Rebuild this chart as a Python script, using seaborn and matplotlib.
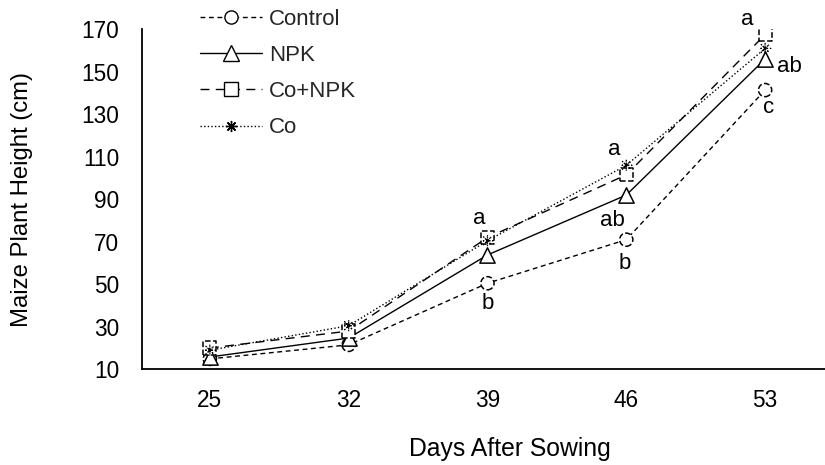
import matplotlib
matplotlib.use("Agg")
import matplotlib.pyplot as plt
import seaborn as sns
import pandas as pd
from matplotlib.lines import Line2D

days = [25, 32, 39, 46, 53]
control = [14.9, 21.5, 50.5, 71.0, 141.4]
npk = [15.8, 24.7, 63.8, 92.0, 156.0]
co_npk = [20.0, 28.0, 72.0, 101.5, 167.5]
co = [19.0, 30.5, 70.5, 106.0, 161.0]
series_names = ["Control", "NPK", "Co+NPK", "Co"]
yticks = [10, 30, 50, 70, 90, 110, 130, 150, 170]

# letters: (series, day index, text, offset pixels)
letters = [
    ("Co+NPK", 2, "a", (-8, 19)),
    ("Control", 2, "b", (0, -20)),
    ("Co", 3, "a", (-12, 16)),
    ("NPK", 3, "ab", (-14, -25)),
    ("Control", 3, "b", (-2, -24)),
    ("Co+NPK", 4, "a", (-18, 15)),
    ("NPK", 4, "ab", (24, -7)),
    ("Control", 4, "c", (4, -17)),
]

values = {"Control": control, "NPK": npk, "Co+NPK": co_npk, "Co": co}
df = pd.concat([pd.DataFrame({"day": days, "height": values[n], "treat": n}) for n in series_names])

sns.set_theme(style="white")
plt.rcParams["font.family"] = ["Liberation Sans", "DejaVu Sans"]

W, H = 825, 465
fig = plt.figure(figsize=(W / 100, H / 100), dpi=100)
ax = fig.add_axes([142 / W, (H - 369.3) / H, (825 - 142) / W, (369.3 - 29.3) / H])

styles = {
    "Control": dict(ls=(0, (3.5, 2.6)), marker="o", ms=9.5, mls="--"),
    "NPK": dict(ls="-", marker="^", ms=11, mls="-"),
    "Co+NPK": dict(ls=(0, (6.5, 4.5)), marker="s", ms=9.5, mls="--"),
    "Co": dict(ls=(0, (1, 1.6)), marker=(8, 2, 0), ms=8, mls=":"),
}

for n in series_names:
    st = styles[n]
    sub = df[df.treat == n]
    sns.lineplot(data=sub, x="day", y="height", ax=ax, color="black", lw=1.0,
                 linestyle=st["ls"], legend=False, zorder=2)
    ax.scatter(sub["day"], sub["height"], marker=st["marker"], s=st["ms"] ** 2,
               facecolors="white" if n != "Co" else "black", edgecolors="black",
               linewidths=1.1 if n != "Co" else 0.9, linestyle=st["mls"], zorder=3)

for n, i, txt, off in letters:
    ax.annotate(txt, (days[i], values[n][i]), xytext=off, textcoords="offset pixels",
                ha="center", va="center", fontsize=16, color="black", zorder=4,
                annotation_clip=False)

ax.set_xlim(21.58, 56.02)
ax.set_ylim(10, 170)
ax.set_xticks(days)
ax.set_xticklabels([str(d) for d in days])
ax.set_yticks(yticks)
ax.set_yticklabels([str(v) for v in yticks])
ax.tick_params(axis="both", labelsize=16.3, colors="black", direction="out", width=1.2)
ax.tick_params(axis="y", length=6.5, pad=10)
ax.tick_params(axis="x", length=4.5, pad=10)
for s in ["top", "right"]:
    ax.spines[s].set_visible(False)
for s in ["left", "bottom"]:
    ax.spines[s].set_color("black")
    ax.spines[s].set_linewidth(1.3)

ax.set_xlabel("Days After Sowing", fontsize=17.8, color="black")
ax.set_ylabel("Maize Plant Height (cm)", fontsize=17.2, color="black")
ax.xaxis.set_label_coords((510 - 142) / (825 - 142), -(437 - 369.3) / (369.3 - 29.3))
ax.yaxis.set_label_coords(-(142 - 33) / (825 - 142), 0.5)

handles = []
for n in series_names:
    st = styles[n]
    handles.append(Line2D([0], [0], color="black", lw=1.0, linestyle=st["ls"],
                          marker=st["marker"], ms=st["ms"],
                          mfc="white" if n != "Co" else "black", mec="black", mew=1.0))
fig.legend(handles, series_names, loc="upper left", bbox_to_anchor=(200 / W, 1 - 9 / H),
           frameon=False, fontsize=16, handlelength=2.8, handletextpad=0.3,
           labelspacing=0.68, borderpad=0, borderaxespad=0)

fig.savefig("out.png", dpi=100)
